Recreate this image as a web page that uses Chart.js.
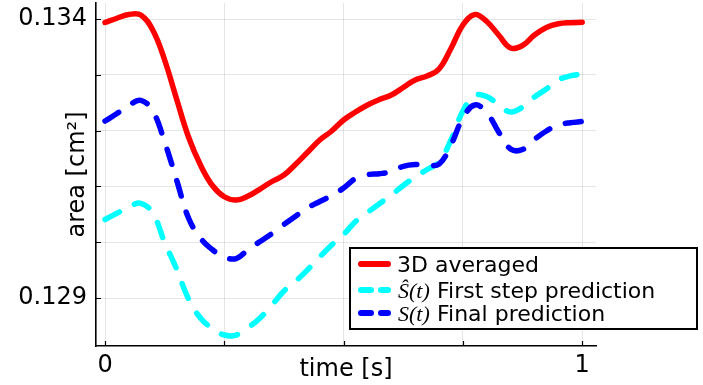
<!DOCTYPE html>
<html>
<head>
<meta charset="utf-8">
<script src="https://cdn.jsdelivr.net/npm/chart.js@4/dist/chart.umd.min.js"></script>
<style>
  html, body { margin: 0; padding: 0; background: #fff; }
  canvas { display: block; }
</style>
</head>
<body>
<canvas id="chart" width="703" height="385"></canvas>
<script>
// time grid, every 0.025 s
const times = [0, 0.025, 0.05, 0.075, 0.1, 0.125, 0.15, 0.175, 0.2, 0.225,
  0.25, 0.275, 0.3, 0.325, 0.35, 0.375, 0.4, 0.425, 0.45, 0.475,
  0.5, 0.525, 0.55, 0.575, 0.6, 0.625, 0.65, 0.675, 0.7, 0.725,
  0.75, 0.775, 0.8, 0.825, 0.85, 0.875, 0.9, 0.925, 0.95, 0.975, 1];

// 3D averaged
const averaged = [0.133937, 0.134014, 0.134081, 0.134072, 0.133803, 0.133265, 0.132566, 0.131885, 0.131384, 0.131016,
  0.130815, 0.130756, 0.130828, 0.130953, 0.131088, 0.131204, 0.131401, 0.131617, 0.131832, 0.131993,
  0.132190, 0.132333, 0.132459, 0.132557, 0.132638, 0.132772, 0.132907, 0.132979, 0.133104, 0.133471,
  0.133892, 0.134081, 0.133955, 0.133713, 0.133480, 0.133525, 0.133713, 0.133848, 0.133914, 0.133935, 0.133941];

// S hat(t), first step prediction
const firstStep = [0.130407, 0.130518, 0.130631, 0.130697, 0.130523, 0.129995, 0.129520, 0.128982, 0.128642, 0.128454,
  0.128337, 0.128337, 0.128471, 0.128642, 0.128875, 0.129125, 0.129305, 0.129511, 0.129735, 0.129950,
  0.130138, 0.130371, 0.130532, 0.130690, 0.130846, 0.131016, 0.131169, 0.131303, 0.131437, 0.131832,
  0.132351, 0.132629, 0.132611, 0.132459, 0.132333, 0.132423, 0.132602, 0.132746, 0.132907, 0.132982, 0.133014];

// S(t), final prediction
const finalPred = [0.132172, 0.132306, 0.132450, 0.132543, 0.132351, 0.131796, 0.131115, 0.130434, 0.130075, 0.129866,
  0.129735, 0.129708, 0.129869, 0.130013, 0.130156, 0.130317, 0.130470, 0.130617, 0.130729, 0.130837,
  0.130971, 0.131142, 0.131210, 0.131228, 0.131267, 0.131360, 0.131392, 0.131384, 0.131401, 0.131742,
  0.132226, 0.132459, 0.132324, 0.131975, 0.131670, 0.131661, 0.131841, 0.131993, 0.132100, 0.132142, 0.132163];

const xTicks = [0, 0.25, 0.5, 0.75, 1];
const xTickLabels = ['0', '', '', '', '1'];
const yTicks = [0.129, 0.130, 0.131, 0.132, 0.133, 0.134];
const yTickLabels = ['0.129', '', '', '', '', '0.134'];

const labels = ['3D averaged', 'First step prediction', 'Final prediction'];
const mathLabels = ['', 'Ŝ(t)', 'S(t)'];
const colors = ['#ff0000', '#00ffff', '#0000ff'];

const pts = arr => arr.map((v, i) => ({ x: times[i], y: v }));

// inward tick marks + legend box
const extras = {
  id: 'extras',
  afterDraw(chart) {
    const { ctx, chartArea: a } = chart;
    const xs = chart.scales.x, ys = chart.scales.y;
    ctx.save();
    ctx.strokeStyle = '#000';
    ctx.lineWidth = 1.2;
    ctx.beginPath();
    ys.ticks.forEach(t => {
      const py = Math.round(ys.getPixelForValue(t.value)) + 0.5;
      ctx.moveTo(a.left, py); ctx.lineTo(a.left + 5, py);
    });
    xs.ticks.forEach(t => {
      const px = Math.round(xs.getPixelForValue(t.value)) + 0.5;
      ctx.moveTo(px, a.bottom); ctx.lineTo(px, a.bottom - 5);
    });
    ctx.stroke();

    // legend
    const bx = 350, by = 248, bw = 347, bh = 81;
    ctx.fillStyle = '#fff';
    ctx.fillRect(bx, by, bw, bh);
    ctx.lineWidth = 2;
    ctx.strokeRect(bx, by, bw, bh);
    const rows = [264, 290, 313];
    chart.data.datasets.forEach((ds, i) => {
      const yy = rows[i];
      ctx.strokeStyle = ds.borderColor;
      ctx.lineWidth = 6;
      ctx.lineCap = 'round';
      ctx.setLineDash(ds.borderDash.length ? [10, 10] : []);
      ctx.beginPath();
      ctx.moveTo(361, yy); ctx.lineTo(388, yy);
      ctx.stroke();
      ctx.setLineDash([]);
      ctx.fillStyle = '#000';
      ctx.textBaseline = 'alphabetic';
      ctx.textAlign = 'left';
      let tx = 397;
      if (mathLabels[i]) {
        ctx.font = 'italic 22px "Liberation Serif"';
        ctx.fillText(mathLabels[i], 398, yy + 8);
        tx = 437;
      }
      ctx.font = '22px "DejaVu Sans"';
      ctx.fillText(ds.label, tx, yy + 8);
    });
    ctx.restore();
  }
};

const lineStyle = (i, dashed, order) => ({
  label: labels[i],
  borderColor: colors[i],
  backgroundColor: colors[i],
  borderWidth: 5.5,
  borderDash: dashed ? [16, 17] : [],
  borderCapStyle: 'round',
  pointRadius: 0,
  tension: 0.4,
  fill: false,
  order: order
});

const noPad = s => { s.paddingTop = 0; s.paddingBottom = 0; s.paddingLeft = 0; s.paddingRight = 0; };

new Chart(document.getElementById('chart'), {
  type: 'line',
  data: {
    datasets: [
      { ...lineStyle(0, false, 3), data: pts(averaged) },
      { ...lineStyle(1, true, 2), data: pts(firstStep) },
      { ...lineStyle(2, true, 1), data: pts(finalPred) }
    ]
  },
  options: {
    responsive: false,
    devicePixelRatio: 1,
    animation: false,
    layout: { padding: { top: 3, right: 107, bottom: 0, left: 0 } },
    plugins: { legend: { display: false }, tooltip: { enabled: false } },
    scales: {
      x: {
        type: 'linear',
        min: -0.0189,
        max: 1.029,
        afterBuildTicks: s => { s.ticks = xTicks.map(v => ({ value: v })); },
        afterFit: s => { s.height = 39; noPad(s); },
        ticks: {
          autoSkip: false,
          maxRotation: 0,
          padding: 5,
          color: '#000',
          font: { family: 'DejaVu Sans', size: 24 },
          callback: (v, i) => xTickLabels[i]
        },
        grid: { color: 'rgba(0,0,0,0.1)', lineWidth: 1, drawTicks: false },
        border: { color: '#000', width: 1.6 },
        title: {
          display: true,
          text: 'time [s]',
          color: '#000',
          font: { family: 'DejaVu Sans', size: 24 },
          padding: { top: 0, bottom: 1 }
        }
      },
      y: {
        type: 'linear',
        min: 0.12814,
        max: 0.134287,
        afterBuildTicks: s => { s.ticks = yTicks.map(v => ({ value: v })); },
        afterFit: s => { s.width = 96; noPad(s); },
        ticks: {
          autoSkip: false,
          padding: 9,
          color: '#000',
          font: { family: 'DejaVu Sans', size: 24 },
          callback: (v, i) => yTickLabels[i]
        },
        grid: { color: 'rgba(0,0,0,0.1)', lineWidth: 1, drawTicks: false },
        border: { color: '#000', width: 1.6 },
        title: {
          display: true,
          text: 'area [cm²]',
          color: '#000',
          font: { family: 'DejaVu Sans', size: 24 },
          padding: { top: 63, bottom: 0 }
        }
      }
    }
  },
  plugins: [extras]
});
</script>
</body>
</html>
